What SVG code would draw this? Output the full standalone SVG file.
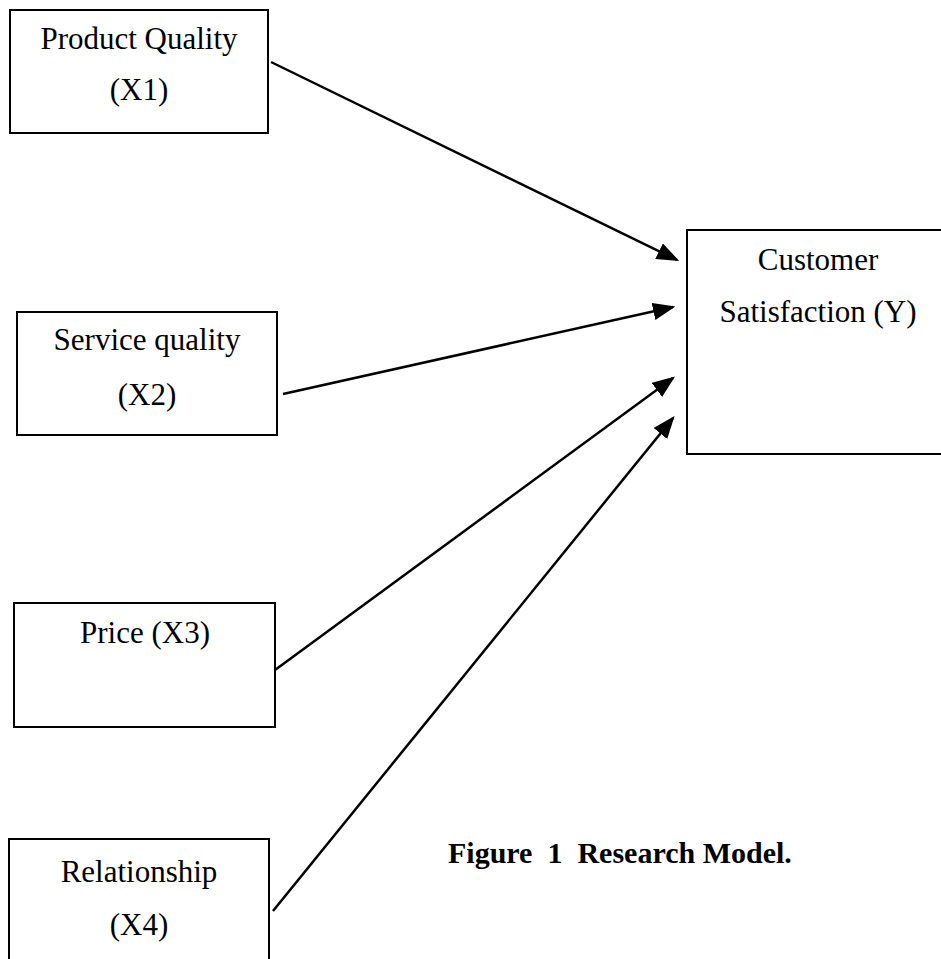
<svg xmlns="http://www.w3.org/2000/svg" width="941" height="959" viewBox="0 0 941 959">
<style>
.box{fill:#fff;stroke:#000;stroke-width:2}
.t{font-family:"Liberation Serif","Times New Roman",serif;font-size:31px;fill:#000;text-anchor:middle}
.cap{font-family:"Liberation Serif","Times New Roman",serif;font-size:30px;font-weight:bold;fill:#000}
.c{stroke:#000;stroke-width:2.5;fill:none;marker-end:url(#ah)}
</style>
<defs>
<marker id="ah" markerWidth="9" markerHeight="7" refX="8" refY="3.5" orient="auto" markerUnits="strokeWidth">
<path d="M0,0 L9,3.5 L0,7 z" fill="#000"/>
</marker>
</defs>
<rect width="941" height="959" fill="#fff"/>
<g id="x1"><rect class="box" x="10" y="10" width="258" height="123"/><text class="t" x="139" y="49">Product Quality</text><text class="t" x="139" y="100">(X1)</text></g>
<g id="x2"><rect class="box" x="17" y="312" width="260" height="123"/><text class="t" x="147" y="350">Service quality</text><text class="t" x="147" y="405">(X2)</text></g>
<g id="x3"><rect class="box" x="14" y="603" width="261" height="124"/><text class="t" x="145" y="643">Price (X3)</text></g>
<g id="x4"><rect class="box" x="9" y="839" width="260" height="130"/><text class="t" x="139" y="882">Relationship</text><text class="t" x="139" y="935">(X4)</text></g>
<g id="y"><rect class="box" x="687" y="230" width="262" height="224"/><text class="t" x="818" y="270">Customer</text><text class="t" x="818" y="322">Satisfaction (Y)</text></g>
<g id="connectors">
<line class="c" x1="271" y1="62" x2="677" y2="260"/>
<line class="c" x1="283" y1="394" x2="673" y2="307"/>
<line class="c" x1="275" y1="670" x2="673" y2="378"/>
<line class="c" x1="273" y1="911" x2="673" y2="418"/>
</g>
<text class="cap" x="448" y="863" xml:space="preserve">Figure  1  Research Model.</text>
</svg>
